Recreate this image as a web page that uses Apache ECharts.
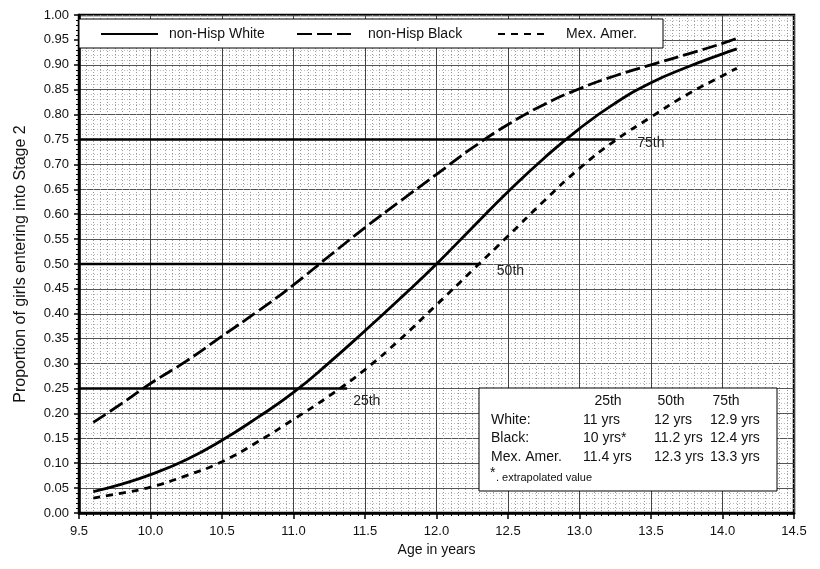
<!DOCTYPE html>
<html>
<head>
<meta charset="utf-8">
<script src="https://cdn.jsdelivr.net/npm/echarts@6/dist/echarts.min.js"></script>
<style>html,body{margin:0;padding:0;background:#fff}</style>
</head>
<body>
<div id="main" style="width:820px;height:569px"></div>
<script>
// 年龄与三条曲线
var ages    = [9.6, 9.8, 10.0, 10.25, 10.5, 10.75, 11.0, 11.25, 11.5, 11.75, 12.0, 12.25, 12.5, 12.75, 13.0, 13.25, 13.5, 13.75, 14.0, 14.1];
var white   = [0.043, 0.058, 0.077, 0.107, 0.146, 0.192, 0.242, 0.302, 0.366, 0.432, 0.50, 0.573, 0.645, 0.712, 0.772, 0.823, 0.864, 0.895, 0.922, 0.932];
var black   = [0.182, 0.22, 0.26, 0.305, 0.355, 0.405, 0.458, 0.516, 0.573, 0.627, 0.68, 0.733, 0.78, 0.82, 0.852, 0.878, 0.90, 0.921, 0.943, 0.953];
var mexAmer = [0.030, 0.040, 0.052, 0.075, 0.103, 0.143, 0.188, 0.235, 0.288, 0.35, 0.418, 0.487, 0.556, 0.626, 0.692, 0.748, 0.795, 0.84, 0.878, 0.893];

var seriesNames = ['non-Hisp White', 'non-Hisp Black', 'Mex. Amer.'];

// 百分位参考线
var refLevels = [0.25, 0.5, 0.75];
var refEnds   = [11.375, 12.31, 13.25];
var refNames  = ['25th', '50th', '75th'];

// 右下角表格
var tableHead = ['25th', '50th', '75th'];
var tableRows = [
    ['White:', '11 yrs', '12 yrs', '12.9 yrs'],
    ['Black:', '10 yrs*', '11.2 yrs', '12.4 yrs'],
    ['Mex. Amer.', '11.4 yrs', '12.3 yrs', '13.3 yrs']
];
var tableNote = '. extrapolated value';

var FONT = 'Liberation Sans, Arial, sans-serif';
var myChart = echarts.init(document.getElementById('main'));

function pairs(ys) {
    return ages.map(function (a, i) { return [a, ys[i]]; });
}

var lineStyles = [
    {color: '#000', width: 2.8, type: 'solid'},
    {color: '#000', width: 2.8, type: [15, 5]},
    {color: '#000', width: 2.8, type: [7, 6]}
];

var series = [white, black, mexAmer].map(function (ys, i) {
    return {
        name: seriesNames[i],
        type: 'line',
        smooth: true,
        symbol: 'none',
        z: 5,
        itemStyle: {color: '#000'},
        lineStyle: lineStyles[i],
        data: pairs(ys)
    };
});

var labelOffsets = [[-2, 13], [8, 7], [14, 4]];
refLevels.forEach(function (lvl, i) {
    series.push({
        name: refNames[i],
        type: 'line',
        symbol: 'none',
        silent: true,
        z: 4,
        lineStyle: {color: '#000', width: 2.5},
        endLabel: {
            show: true,
            formatter: refNames[i],
            offset: labelOffsets[i],
            fontFamily: FONT,
            fontSize: 14,
            color: '#222'
        },
        data: [[9.5, lvl], [refEnds[i], lvl]]
    });
});

// 图例框和表格
var graphics = [
    {type: 'rect', z: 3, shape: {x: 79, y: 19, width: 584, height: 29},
        style: {fill: '#fff', stroke: '#000', lineWidth: 1}},
    {type: 'rect', z: 3, shape: {x: 479, y: 388, width: 298, height: 103},
        style: {fill: '#fff', stroke: '#000', lineWidth: 1}}
];
var headX = [608, 671, 726];
var colX = [491, 583, 654, 710];
var rowY = [420, 438, 457];
tableHead.forEach(function (t, i) {
    graphics.push({type: 'text', z: 4, x: headX[i], y: 401,
        style: {text: t, font: '14px ' + FONT, fill: '#111', align: 'center', verticalAlign: 'middle'}});
});
tableRows.forEach(function (row, r) {
    row.forEach(function (t, c) {
        graphics.push({type: 'text', z: 4, x: colX[c], y: rowY[r],
            style: {text: t, font: '14px ' + FONT, fill: '#111', align: 'left', verticalAlign: 'middle'}});
    });
});
graphics.push({type: 'text', z: 4, x: 490, y: 473,
    style: {text: '*', font: '14px ' + FONT, fill: '#111', align: 'left', verticalAlign: 'middle'}});
graphics.push({type: 'text', z: 4, x: 496, y: 478,
    style: {text: tableNote, font: '11px ' + FONT, fill: '#111', align: 'left', verticalAlign: 'middle'}});

function legendAt(name, left, w, pad) {
    return {
        data: [name], left: left, top: 27, padding: 0,
        itemWidth: w, itemHeight: 14, z: 4,
        itemStyle: {opacity: 0},
        textStyle: {fontFamily: FONT, fontSize: 14, color: '#111', padding: [0, 0, 0, pad]}
    };
}

var option = {
    animation: false,
    backgroundColor: '#fff',
    grid: {left: 79, right: 26, top: 15, bottom: 56, show: true, borderColor: '#000', borderWidth: 2.5},
    legend: [
        legendAt(seriesNames[0], 100, 57, 6),
        legendAt(seriesNames[1], 296, 54, 12),
        legendAt(seriesNames[2], 497, 48, 15)
    ],
    xAxis: {
        type: 'value', min: 9.5, max: 14.5, interval: 0.5,
        name: 'Age in years', nameLocation: 'middle', nameGap: 30,
        nameTextStyle: {fontFamily: FONT, fontSize: 14, color: '#111'},
        axisLine: {lineStyle: {color: '#000', width: 2.5}},
        axisTick: {length: 6, lineStyle: {color: '#000', width: 1.5}},
        minorTick: {show: true, splitNumber: 10, length: 3, lineStyle: {color: '#000'}},
        axisLabel: {formatter: function (v) { return v.toFixed(1); }, margin: 12,
            fontFamily: FONT, fontSize: 13, color: '#111'},
        splitLine: {lineStyle: {color: '#444', width: 1}},
        minorSplitLine: {show: true, lineStyle: {color: '#999', width: 1, type: [1, 2]}}
    },
    yAxis: {
        type: 'value', min: 0, max: 1, interval: 0.05,
        name: 'Proportion of girls entering into Stage 2', nameLocation: 'middle', nameGap: 50,
        nameTextStyle: {fontFamily: FONT, fontSize: 16, color: '#111'},
        axisLine: {show: true, lineStyle: {color: '#000', width: 2.5}},
        axisTick: {show: true, length: 5, lineStyle: {color: '#000', width: 1.5}},
        minorTick: {show: true, splitNumber: 5, length: 3, lineStyle: {color: '#000'}},
        axisLabel: {formatter: function (v) { return v.toFixed(2); }, margin: 10,
            fontFamily: FONT, fontSize: 13, color: '#111'},
        splitLine: {lineStyle: {color: '#555', width: 1}},
        minorSplitLine: {show: true, lineStyle: {color: '#bbb', width: 1, type: [1, 2]}}
    },
    graphic: graphics,
    series: series
};
myChart.setOption(option);
</script>
</body>
</html>
